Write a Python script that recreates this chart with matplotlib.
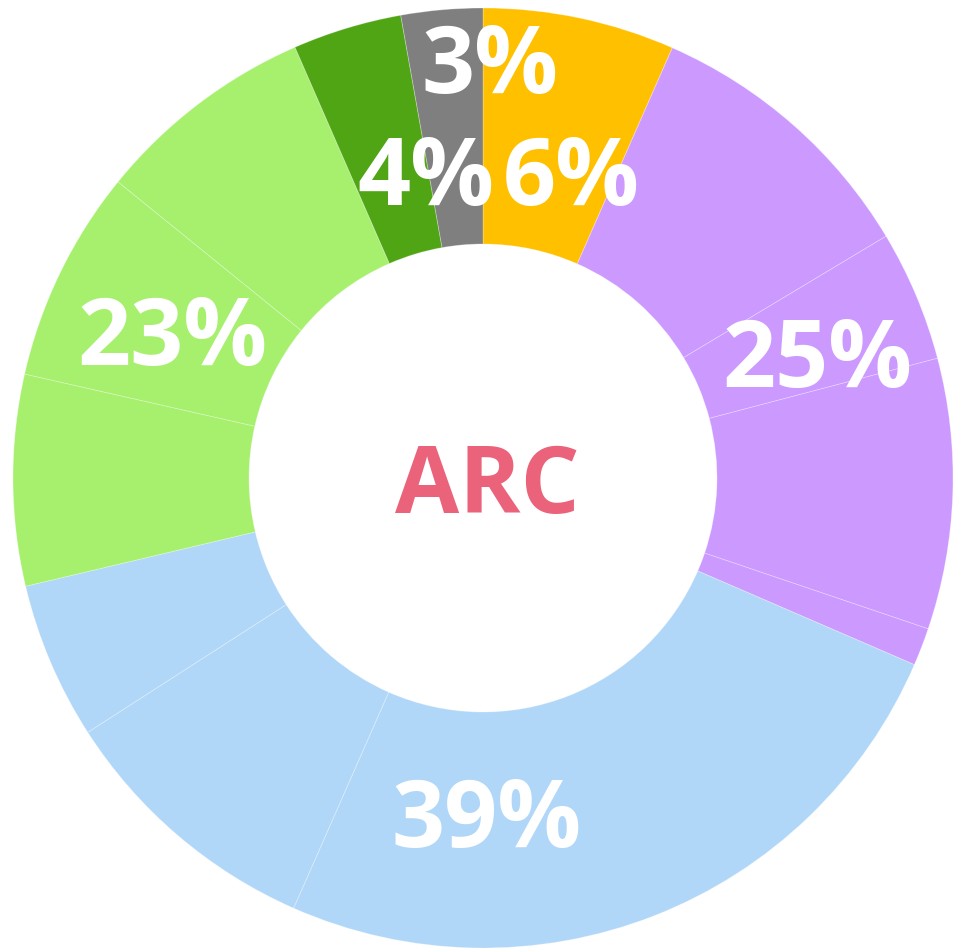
import matplotlib
matplotlib.use("Agg")
import matplotlib.pyplot as plt

# Sub-slice values (percent), clockwise from 12 o'clock
categories = ["Orange", "Purple", "Purple", "Purple", "Purple",
              "Blue", "Blue", "Blue",
              "Green", "Green", "Green",
              "Dark green", "Gray"]
values = [6.6, 9.8, 4.5, 9.3, 1.3,
          25.1, 9.3, 5.4,
          7.25, 7.3, 7.6,
          3.75, 2.8]
group_colors = {
    "Orange": "#FFC000",
    "Purple": "#CC99FF",
    "Blue": "#B1D7F8",
    "Green": "#A6F06E",
    "Dark green": "#4FA514",
    "Gray": "#7F7F7F",
}
group_labels = ["6%", "25%", "39%", "23%", "4%", "3%"]
center_label = "ARC"

W, H = 955, 950
fig = plt.figure(figsize=(W / 100, H / 100), dpi=100)
ax = fig.add_axes([0, 0, 1, 1])

cx, cy = 483, H - 478
R, r = 470, 234
ax.pie(values,
       colors=[group_colors[c] for c in categories],
       startangle=90, counterclock=False,
       center=(cx, cy), radius=R,
       wedgeprops=dict(width=R - r, edgecolor=(1, 1, 1, 0.3), linewidth=0.6),
       frame=False)
ax.set_xlim(0, W)
ax.set_ylim(0, H)
ax.set_aspect("equal")
ax.axis("off")

font = dict(family=["Open Sans", "DejaVu Sans"], fontweight="bold", color="white",
            fontsize=67, ha="center", va="center")
label_pos = [(571, 180), (817, 363), (486, 822), (172, 341), (426, 180), (490, 68)]
for lab, (x, y) in zip(group_labels, label_pos):
    ax.text(x, H - y, lab, **font)

ax.text(487, H - 489, center_label, family=["Open Sans", "DejaVu Sans"],
        fontweight="bold", color="#EB637A", fontsize=67, ha="center", va="center")

fig.savefig("out.png", dpi=100)
